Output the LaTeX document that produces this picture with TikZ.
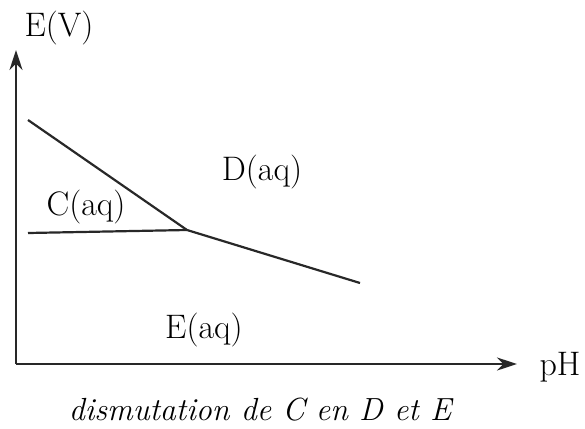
\documentclass[tikz,border=0pt]{standalone}
\usepackage{tikz}
\usetikzlibrary{arrows.meta, positioning}
\definecolor{mydark}{RGB}{40,40,40}
\tikzset{
  axis/.style={-{Stealth[length=20pt, width=13pt]}, line width=2.6pt, color=mydark},
  border/.style={line width=2.2pt, color=mydark},
  lbl/.style={font=\fontsize{34}{40}\selectfont, inner sep=0pt, anchor=base},
  capt/.style={font=\fontsize{32}{38}\selectfont\itshape, inner sep=0pt, anchor=base}
}
\begin{document}
\begin{tikzpicture}[x=1pt, y=-1pt]
  \useasboundingbox (0,0) rectangle (585,428);
  % axes
  \coordinate (o) at (16,364);
  \coordinate (ytip) at (16,50);
  \coordinate (xtip) at (517,364);
  \draw[axis] (o) -- (ytip);
  \draw[axis] (o) -- (xtip);
  \node[lbl] (ev) at (59,37) {E(V)};
  \node[lbl] (ph) at (560,375) {pH};
  % frontieres
  \coordinate (a) at (28,120);
  \coordinate (j) at (187,230);
  \coordinate (b) at (360,283);
  \coordinate (h) at (28,233);
  \draw[border] (a) -- (j) -- (b);
  \draw[border] (h) -- (j);
  % domaines
  \node[lbl] (dd) at (262,180) {D(aq)};
  \node[lbl] (cc) at (86,215) {C(aq)};
  \node[lbl] (ee) at (204,338) {E(aq)};
  \node[capt] (cap) at (260,420) {dismutation de C en D et E};
\end{tikzpicture}
\end{document}
